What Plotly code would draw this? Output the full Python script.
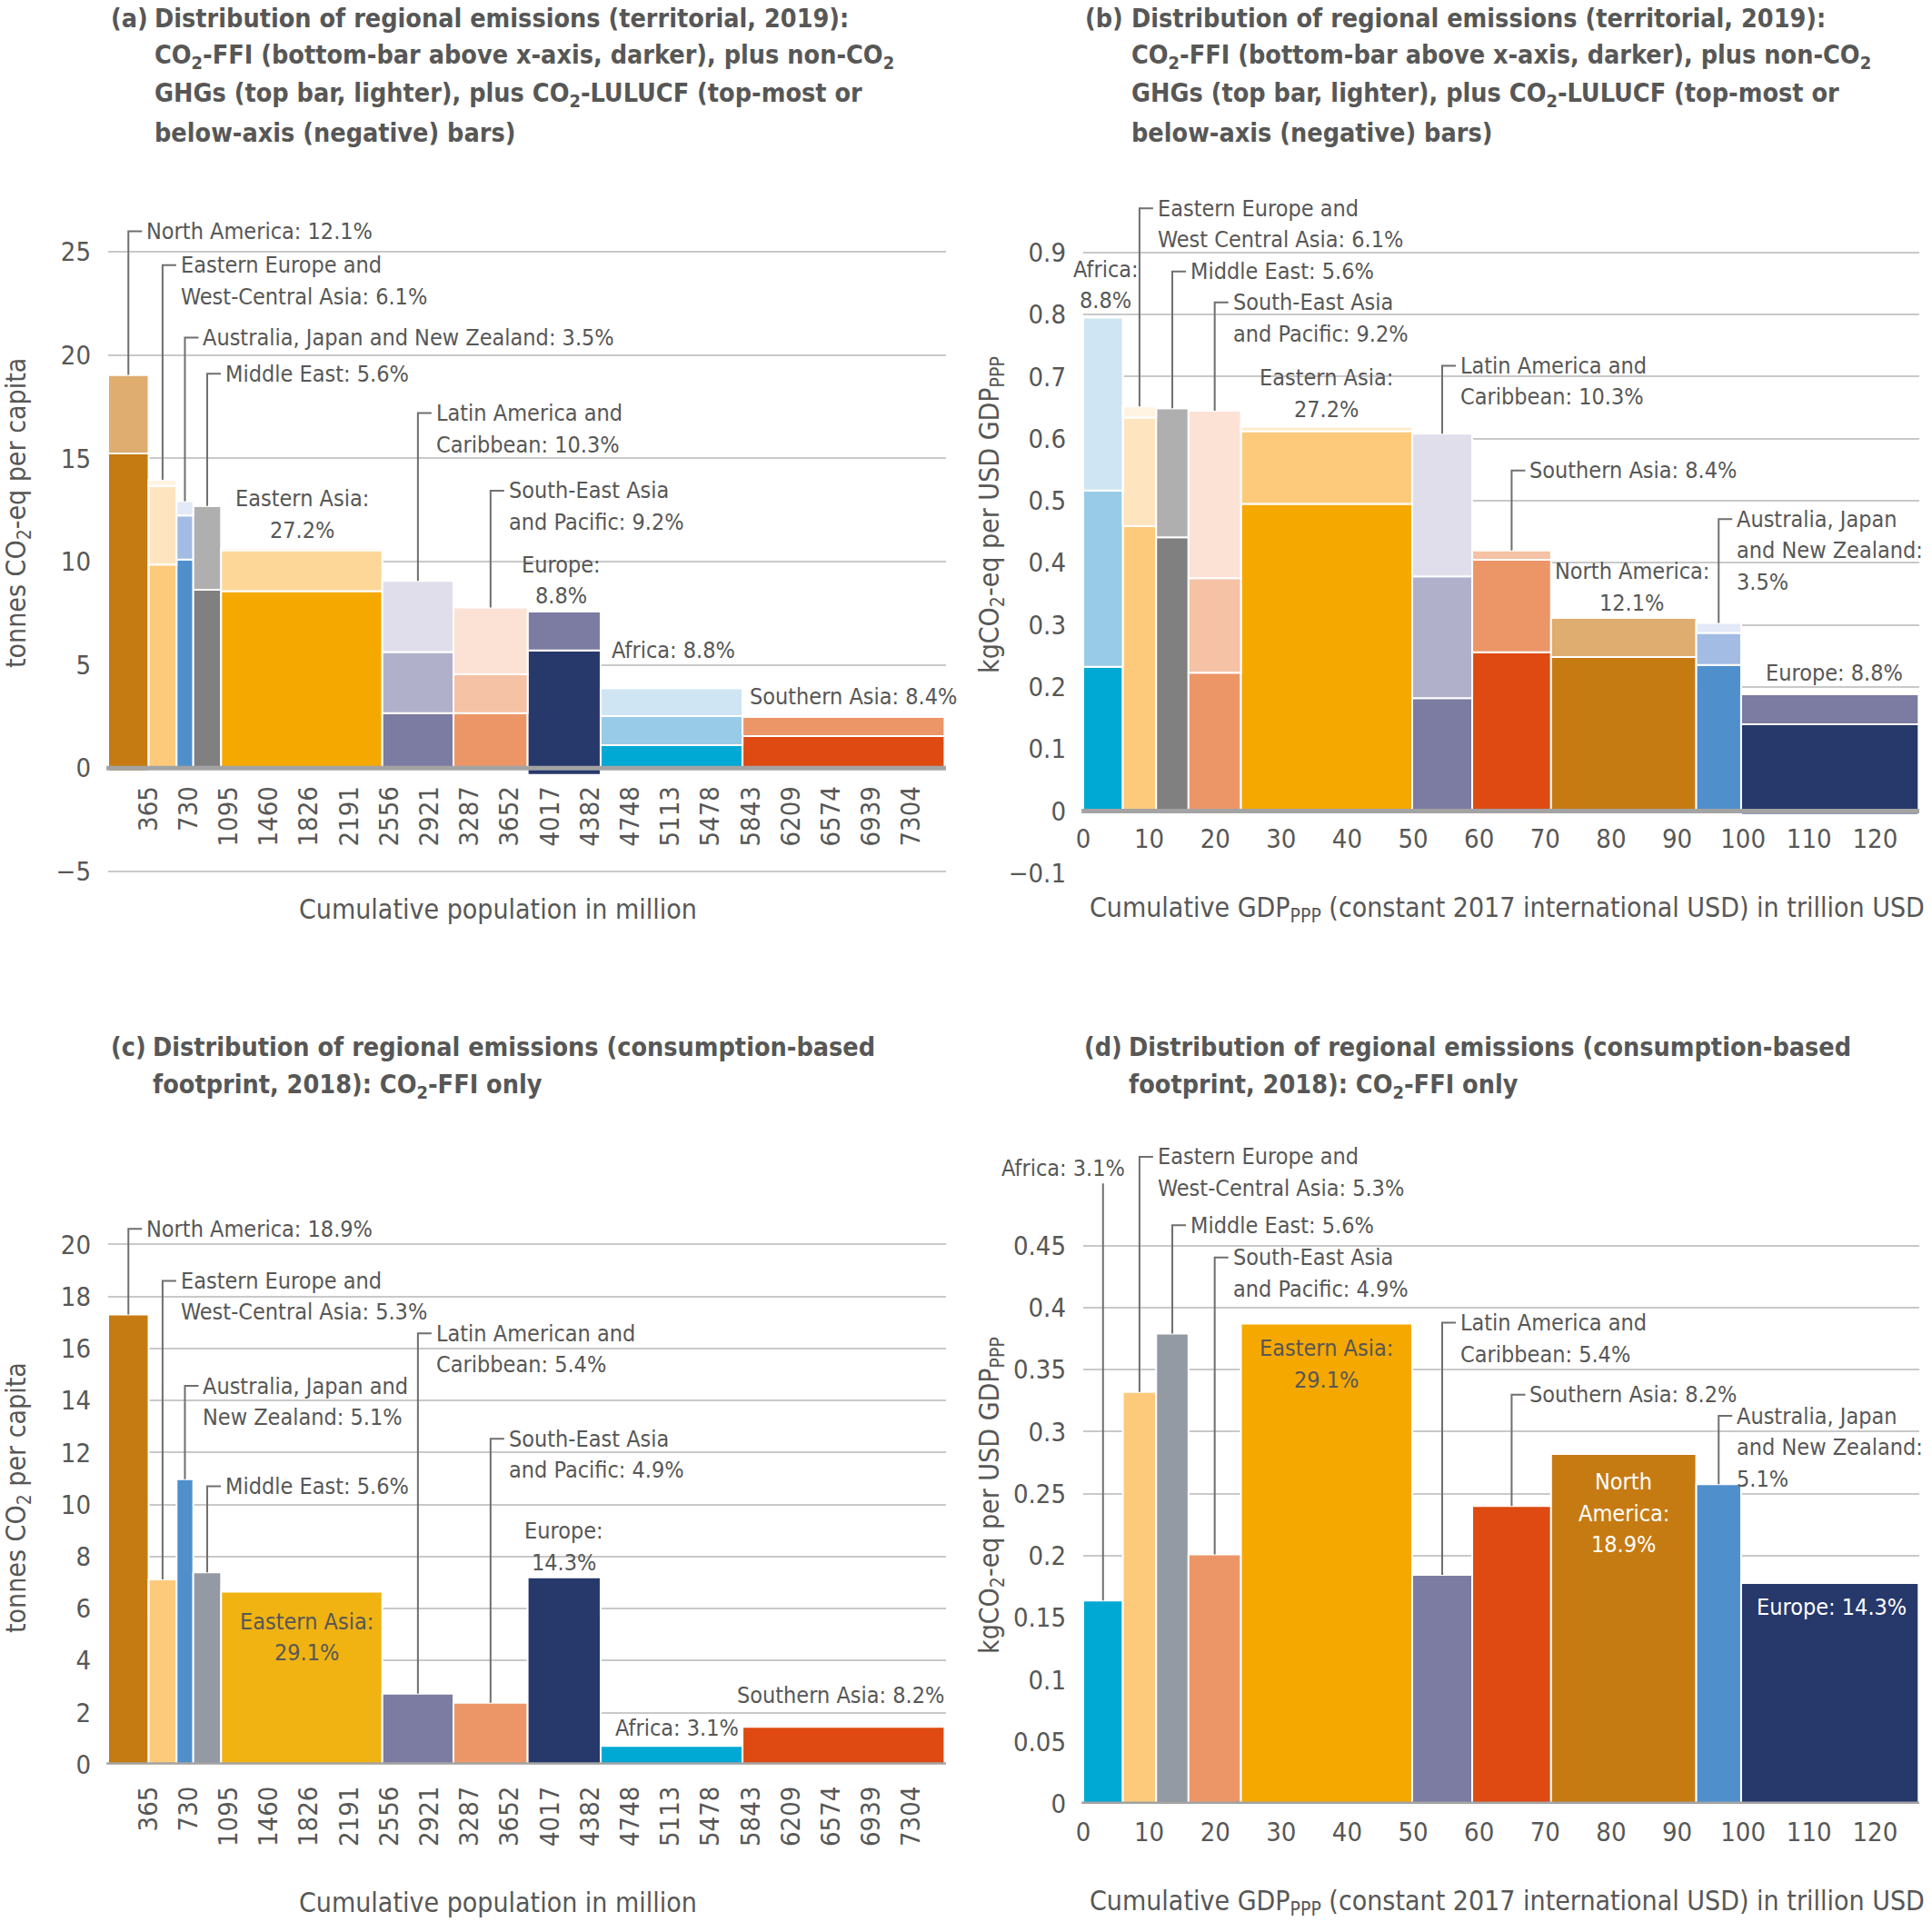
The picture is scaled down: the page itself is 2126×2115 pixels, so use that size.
import plotly.graph_objects as go

# figure fills the whole 2126 x 2115 page (body margin removed by post_script)
W, H = 2126, 2115
OFF = 0
FONT = "DejaVu Sans Condensed, DejaVu Sans, sans-serif"
TXT = "#575756"
LEAD = "#6F6F6E"
GRID = "#C9C9C9"
ZERO = "#A3A3A3"

# ---------------- data (canonical region order) ----------------
regions = ["North America", "Eastern Europe and West-Central Asia",
           "Australia, Japan and New Zealand", "Middle East", "Eastern Asia",
           "Latin America and Caribbean", "South-East Asia and Pacific",
           "Europe", "Africa", "Southern Asia"]
population_million = [368, 254, 152, 253, 1466, 647, 674, 664, 1290, 1837]
gdp_ppp_trillion = [22.0, 5.05, 6.8, 4.9, 25.95, 9.1, 7.95, 26.9, 6.0, 11.95]
order_population = [0, 1, 2, 3, 4, 5, 6, 7, 8, 9]
order_gdp = [8, 1, 3, 6, 4, 5, 9, 0, 2, 7]

# (a) territorial 2019, tonnes CO2-eq per capita
terr_ffi_pc = [15.24, 9.86, 10.10, 8.64, 8.57, 2.66, 2.66, 5.70, 1.11, 1.55]
terr_nonco2_pc = [3.81, 3.81, 2.14, 4.06, 1.98, 2.97, 1.89, 1.90, 1.41, 0.94]
terr_lulucf_pc = [-0.15, 0.30, 0.69, 0.0, 0.12, 3.44, 3.23, -0.33, 1.34, 0.05]
# (b) territorial 2019, kgCO2-eq per USD GDP(PPP)
terr_ffi_gdp = [0.248, 0.459, 0.2355, 0.441, 0.495, 0.182, 0.223, 0.140, 0.2325, 0.256]
terr_nonco2_gdp = [0.063, 0.175, 0.0515, 0.208, 0.117, 0.196, 0.152, 0.048, 0.284, 0.149]
terr_lulucf_gdp = [-0.003, 0.018, 0.016, 0.0, 0.007, 0.230, 0.270, -0.006, 0.2785, 0.015]
# (c) consumption 2018, tonnes CO2 per capita
cons_pc = [17.31, 7.12, 10.97, 7.39, 6.65, 2.73, 2.38, 7.20, 0.72, 1.45]
# (d) consumption 2018, kgCO2 per USD GDP(PPP)
cons_gdp = [0.282, 0.332, 0.2575, 0.379, 0.387, 0.1845, 0.201, 0.178, 0.1638, 0.240]

share_territorial = [12.1, 6.1, 3.5, 5.6, 27.2, 10.3, 9.2, 8.8, 8.8, 8.4]
share_consumption = [18.9, 5.3, 5.1, 5.6, 29.1, 5.4, 4.9, 14.3, 3.1, 8.2]

pop_tick_labels = [365, 730, 1095, 1460, 1826, 2191, 2556, 2921, 3287, 3652,
                   4017, 4382, 4748, 5113, 5478, 5843, 6209, 6574, 6939, 7304]
gdp_tick_labels = [0, 10, 20, 30, 40, 50, 60, 70, 80, 90, 100, 110, 120]

# ---------------- styles ----------------
col_dark = ["#C67B12", "#FDCA7C", "#4F8FCC", "#808080", "#F5A800", "#7C7BA1",
            "#EC9668", "#27386B", "#00A9D4", "#DE4A12"]
col_mid_a = ["#DFAD6F", "#FEE4BF", "#A2BCE3", "#B0AFB0", "#FCD797", "#B1B0CA",
             "#F5C2A5", "#7C7BA2", "#98CBE7", "#EC9668"]
col_light_a = ["#EFD6B5", "#FFF3E2", "#E3E9F6", "#DDDDDD", "#FEF0D5", "#DFDEEA",
               "#FCE2D5", "#BDBCD0", "#CFE5F3", "#F5C2A5"]
col_mid_b = list(col_mid_a); col_mid_b[4] = "#FDCA7C"
col_light_b = list(col_light_a); col_light_b[4] = "#FEEAC6"
col_cons_c = list(col_dark); col_cons_c[3] = "#939AA3"; col_cons_c[4] = "#F0B312"
col_cons_d = list(col_dark); col_cons_d[3] = "#939AA3"

LBL = 25
LS = 34.5      # label line spacing (px)
TICKF = 29
TITLE_F = 28.5
AX_F = 30


def fx(x):
    return (x - OFF) / W


def fy(y):
    return 1 - (y - OFF) / H


panels = {
    "a": dict(xn="x", yn="y", xpx=(119, 1041), xr=(0, 7618), zero=845.3, unit=22.72,
              yr=(-5.05, 26.6), yt=[-5, 0, 5, 10, 15, 20, 25], xt=pop_tick_labels,
              ang=-90, xstand=13),
    "b": dict(xn="x2", yn="y2", xpx=(1192, 2112), xr=(0, 126.7), zero=892.5, unit=683.0,
              yr=(-0.101, 0.99), yt=[-0.1, 0, 0.1, 0.2, 0.3, 0.4, 0.5, 0.6, 0.7, 0.8, 0.9],
              xt=gdp_tick_labels, ang=0, xstand=10),
    "c": dict(xn="x3", yn="y3", xpx=(119, 1041), xr=(0, 7618), zero=1941.8, unit=28.62,
              yr=(0, 21), yt=[0, 2, 4, 6, 8, 10, 12, 14, 16, 18, 20], xt=pop_tick_labels,
              ang=-90, xstand=17),
    "d": dict(xn="x4", yn="y4", xpx=(1192, 2112), xr=(0, 126.7), zero=1984.9, unit=1365.2,
              yr=(0, 0.53), yt=[0, 0.05, 0.1, 0.15, 0.2, 0.25, 0.3, 0.35, 0.4, 0.45],
              xt=gdp_tick_labels, ang=0, xstand=11),
}

fig = go.Figure()
layout = dict(width=W, height=H, autosize=False,
              margin=dict(l=0, r=0, t=0, b=0, pad=0, autoexpand=False),
              paper_bgcolor="white", plot_bgcolor="white", showlegend=False,
              barmode="overlay", font=dict(family=FONT, color=TXT))
annotations = []
shapes = []


def fmt(v):
    return f"{v:g}".replace("-", "\u2212")


for key, p in panels.items():
    x0, x1 = p["xpx"]
    bottom = p["zero"] - p["yr"][0] * p["unit"]
    top = p["zero"] - p["yr"][1] * p["unit"]
    xax = "xaxis" + p["xn"][1:]
    yax = "yaxis" + p["yn"][1:]
    layout[xax] = dict(domain=[fx(x0), fx(x1)], range=list(p["xr"]), anchor="free",
                       position=fy(p["zero"]), tickvals=p["xt"],
                       ticktext=[str(t) for t in p["xt"]], tickangle=p["ang"],
                       showgrid=False, zeroline=False, showline=False, ticks="",
                       automargin=False,
                       tickfont=dict(size=TICKF, color=TXT, family=FONT),
                       ticklabelstandoff=p["xstand"], fixedrange=True)
    layout[yax] = dict(domain=[fy(bottom), fy(top)], range=list(p["yr"]),
                       anchor=p["xn"], tickvals=p["yt"], ticktext=[fmt(v) for v in p["yt"]],
                       showgrid=True, gridcolor=GRID, gridwidth=2, zeroline=False,
                       showline=False, ticks="", ticklabelstandoff=18, automargin=False,
                       tickfont=dict(size=TICKF, color=TXT, family=FONT), fixedrange=True)
    shapes.append(dict(type="line", xref=p["xn"] + " domain", yref=p["yn"], x0=-0.002, x1=1,
                       y0=0, y1=0, line=dict(color=ZERO, width=5), layer="above"))


def geometry(order, widths):
    lefts, cum = {}, 0.0
    for r in order:
        lefts[r] = cum
        cum += widths[r]
    return lefts


def add_bars(p, order, widths, base, height, colors):
    lefts = geometry(order, widths)
    xs = [lefts[r] + widths[r] / 2 for r in order]
    fig.add_trace(go.Bar(x=xs, y=list(height), base=list(base),
                         width=[widths[r] for r in order], xaxis=p["xn"], yaxis=p["yn"],
                         marker=dict(color=list(colors), line=dict(color="white", width=2)),
                         hoverinfo="skip"))


def territorial(p, order, widths, ffi, non, luc, mid, light):
    f = [ffi[r] for r in order]
    n = [non[r] for r in order]
    l = [luc[r] for r in order]
    zeros = [0] * len(order)
    add_bars(p, order, widths, zeros, [min(v, 0) for v in l], [col_dark[r] for r in order])
    add_bars(p, order, widths, zeros, f, [col_dark[r] for r in order])
    add_bars(p, order, widths, f, n, [mid[r] for r in order])
    add_bars(p, order, widths, [a + b for a, b in zip(f, n)], [max(v, 0) for v in l],
             [light[r] for r in order])
    return {r: ffi[r] + non[r] + max(luc[r], 0) for r in order}


def consumption(p, order, widths, vals, colors):
    add_bars(p, order, widths, [0] * len(order), [vals[r] for r in order],
             [colors[r] for r in order])
    return {r: vals[r] for r in order}


tops = {}
tops["a"] = territorial(panels["a"], order_population, population_million, terr_ffi_pc,
                        terr_nonco2_pc, terr_lulucf_pc, col_mid_a, col_light_a)
tops["b"] = territorial(panels["b"], order_gdp, gdp_ppp_trillion, terr_ffi_gdp,
                        terr_nonco2_gdp, terr_lulucf_gdp, col_mid_b, col_light_b)
tops["c"] = consumption(panels["c"], order_population, population_million, cons_pc, col_cons_c)
tops["d"] = consumption(panels["d"], order_gdp, gdp_ppp_trillion, cons_gdp, col_cons_d)

# ---------------- labels ----------------
labels = {
    "a": [("lead", 0, "North America: {}%", 26.0),
          ("lead", 1, "Eastern Europe and<br>West-Central Asia: {}%", 24.36),
          ("lead", 2, "Australia, Japan and New Zealand: {}%", 20.85),
          ("lead", 3, "Middle East: {}%", 19.1),
          ("center", 4, "Eastern Asia:<br>{}%", 13.05, 0, TXT),
          ("lead", 5, "Latin America and<br>Caribbean: {}%", 17.2),
          ("lead", 6, "South-East Asia<br>and Pacific: {}%", 13.44),
          ("center", 7, "Europe:<br>{}%", 9.86, -3, TXT),
          ("left", 8, "Africa: {}%", 5.73, 10),
          ("left", 9, "Southern Asia: {}%", 3.46, 6)],
    "b": [("center", 8, "Africa:<br>{}%", 0.873, 3, TXT),
          ("lead", 1, "Eastern Europe and<br>West Central Asia: {}%", 0.971),
          ("lead", 3, "Middle East: {}%", 0.8695),
          ("lead", 6, "South-East Asia<br>and Pacific: {}%", 0.8196),
          ("center", 4, "Eastern Asia:<br>{}%", 0.698, 0, TXT),
          ("lead", 5, "Latin America and<br>Caribbean: {}%", 0.7176),
          ("lead", 9, "Southern Asia: {}%", 0.5487),
          ("center", 0, "North America:<br>{}%", 0.386, 9, TXT),
          ("lead", 2, "Australia, Japan<br>and New Zealand:<br>{}%", 0.4705),
          ("center", 7, "Europe: {}%", 0.2226, 5, TXT)],
    "c": [("lead", 0, "North America: {}%", 20.6),
          ("lead", 1, "Eastern Europe and<br>West-Central Asia: {}%", 18.6),
          ("lead", 2, "Australia, Japan and<br>New Zealand: {}%", 14.56),
          ("lead", 3, "Middle East: {}%", 10.7),
          ("center", 4, "Eastern Asia:<br>{}%", 5.51, 5, TXT),
          ("lead", 5, "Latin American and<br>Caribbean: {}%", 16.58),
          ("lead", 6, "South-East Asia<br>and Pacific: {}%", 12.53),
          ("center", 7, "Europe:<br>{}%", 8.99, 0, TXT),
          ("left", 8, "Africa: {}%", 1.41, 14),
          ("right", 9, "Southern Asia: {}%", 2.67, 2)],
    "d": [("vlead", 8, "Africa: {}%", 0.512, 0.5, 26),
          ("lead", 1, "Eastern Europe and<br>West-Central Asia: {}%", 0.5215),
          ("lead", 3, "Middle East: {}%", 0.4663),
          ("lead", 6, "South-East Asia<br>and Pacific: {}%", 0.4404),
          ("center", 4, "Eastern Asia:<br>{}%", 0.367, 0, TXT),
          ("lead", 5, "Latin America and<br>Caribbean: {}%", 0.3877),
          ("lead", 9, "Southern Asia: {}%", 0.3297),
          ("center", 0, "North<br>America:<br>{}%", 0.2595, 0, "white"),
          ("lead", 2, "Australia, Japan<br>and New Zealand:<br>{}%", 0.3127),
          ("center", 7, "Europe: {}%", 0.1586, 2, "white")],
}
shares = {"a": share_territorial, "b": share_territorial,
          "c": share_consumption, "d": share_consumption}
orders = {"a": order_population, "b": order_gdp, "c": order_population, "d": order_gdp}
widths_of = {"a": population_million, "b": gdp_ppp_trillion,
             "c": population_million, "d": gdp_ppp_trillion}

TICK = 15


def text_lines(p, x, y, text, xanchor, xshift, color):
    for i, line in enumerate(text.split("<br>")):
        annotations.append(dict(xref=p["xn"], yref=p["yn"], x=x, y=y, showarrow=False,
                                text=line, xanchor=xanchor, yanchor="middle",
                                xshift=xshift, yshift=-i * LS,
                                font=dict(size=LBL, color=color, family=FONT)))


for key, lst in labels.items():
    p = panels[key]
    lefts = geometry(orders[key], widths_of[key])
    w = widths_of[key]
    for spec in lst:
        kind, r = spec[0], spec[1]
        text = spec[2].format(f"{shares[key][r]:.1f}")
        cx = lefts[r] + w[r] / 2
        if kind == "lead":
            y = spec[3]
            shapes.append(dict(type="path", xref=p["xn"], yref=p["yn"], xsizemode="pixel",
                               xanchor=cx, path=f"M0,{tops[key][r]} L0,{y} L{TICK},{y}",
                               line=dict(color=LEAD, width=2), layer="above"))
            text_lines(p, cx, y, text, "left", TICK + 3, TXT)
        elif kind == "center":
            text_lines(p, cx, spec[3], text, "center", spec[4], spec[5])
        elif kind == "left":
            text_lines(p, lefts[r], spec[3], text, "left", spec[4], TXT)
        elif kind == "right":
            text_lines(p, lefts[r] + w[r], spec[3], text, "right", spec[4], TXT)
        elif kind == "vlead":
            shapes.append(dict(type="line", xref=p["xn"], yref=p["yn"], x0=cx, x1=cx,
                               y0=tops[key][r], y1=spec[4], line=dict(color=LEAD, width=2),
                               layer="above"))
            text_lines(p, cx, spec[3], text, "right", spec[5], TXT)

# ---------------- titles & axis titles ----------------
titles = [
    (119.5, 168, [20, 62.5, 104.6, 146.7], "(a)",
     ["Distribution of regional emissions (territorial, 2019):",
      "CO<sub>2</sub>-FFI (bottom-bar above x-axis, darker), plus non-CO<sub>2</sub>",
      "GHGs (top bar, lighter), plus CO<sub>2</sub>-LULUCF (top-most or",
      "below-axis (negative) bars)"]),
    (1192, 1243, [20, 62.5, 104.6, 146.7], "(b)",
     ["Distribution of regional emissions (territorial, 2019):",
      "CO<sub>2</sub>-FFI (bottom-bar above x-axis, darker), plus non-CO<sub>2</sub>",
      "GHGs (top bar, lighter), plus CO<sub>2</sub>-LULUCF (top-most or",
      "below-axis (negative) bars)"]),
    (119.5, 166, [1152, 1195.5], "(c)",
     ["Distribution of regional emissions (consumption-based",
      "footprint, 2018): CO<sub>2</sub>-FFI only"]),
    (1191, 1240, [1152, 1195.5], "(d)",
     ["Distribution of regional emissions (consumption-based",
      "footprint, 2018): CO<sub>2</sub>-FFI only"]),
]
for xl, xi, ys, tag, lines in titles:
    annotations.append(dict(xref="paper", yref="paper", x=fx(xl), y=fy(ys[0]), xanchor="left",
                            yanchor="middle", showarrow=False, text=f"<b>{tag}</b>",
                            font=dict(size=TITLE_F, color=TXT, family=FONT)))
    for yy, line in zip(ys, lines):
        annotations.append(dict(xref="paper", yref="paper", x=fx(xi), y=fy(yy), xanchor="left",
                                yanchor="middle", showarrow=False, text=f"<b>{line}</b>",
                                font=dict(size=TITLE_F, color=TXT, family=FONT)))

axis_titles = [
    (548, 1000, 0, "Cumulative population in million"),
    (1658, 1000, 0, "Cumulative GDP<sub>PPP</sub> (constant 2017 international USD) in trillion USD"),
    (548, 2093, 0, "Cumulative population in million"),
    (1658, 2093, 0, "Cumulative GDP<sub>PPP</sub> (constant 2017 international USD) in trillion USD"),
    (19, 565, -90, "tonnes CO<sub>2</sub>-eq per capita"),
    (1090, 567, -90, "kgCO<sub>2</sub>-eq per USD GDP<sub>PPP</sub>"),
    (19, 1648, -90, "tonnes CO<sub>2</sub> per capita"),
    (1090, 1646, -90, "kgCO<sub>2</sub>-eq per USD GDP<sub>PPP</sub>"),
]
for x, y, ang, t in axis_titles:
    annotations.append(dict(xref="paper", yref="paper", x=fx(x), y=fy(y), xanchor="center",
                            yanchor="middle", showarrow=False, text=t, textangle=ang,
                            font=dict(size=AX_F, color=TXT, family=FONT)))

layout["annotations"] = annotations
layout["shapes"] = shapes
fig.update_layout(**layout)
fig.write_html("out.html",
               config={"displayModeBar": False, "staticPlot": True},
               post_script="document.body.style.margin='0px';"
                           "document.body.style.overflow='hidden';")
